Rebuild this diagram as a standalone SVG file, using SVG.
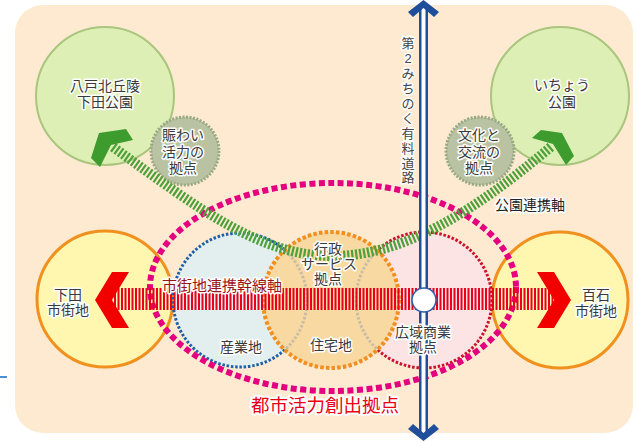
<svg xmlns="http://www.w3.org/2000/svg" width="637" height="442" viewBox="0 0 637 442">
<defs>
<style>
text{font-family:'Liberation Sans','Noto Sans CJK JP',sans-serif;font-size:14px;text-anchor:middle;fill:#3a3a3a;paint-order:stroke;stroke:#fff;stroke-width:3px;stroke-linejoin:round}
.park{fill:#DDEFB4;stroke:#A9C57E;stroke-width:2}
.hub{fill:#B9C3A3;stroke:#98A883;stroke-width:3;stroke-dasharray:2 1.5}
.town{fill:#FFF7B0;stroke:#F0901E;stroke-width:3}
.green{fill:#3E9B2E}
</style>
<clipPath id="orClip"><circle cx="331" cy="300" r="67"/></clipPath>
</defs>
<rect x="0" y="0" width="637" height="442" fill="#fff"/>
<rect x="15" y="5" width="618" height="428" rx="28" fill="#FDEAD0"/>
<line x1="0" y1="377" x2="7" y2="377" stroke="#4A90D9" stroke-width="2"/>

<g id="park-left"><circle class="park" cx="105" cy="96" r="69"/></g>
<g id="park-right"><circle class="park" cx="560" cy="96" r="69"/></g>
<g id="hub-left"><circle class="hub" cx="185" cy="151" r="34"/></g>
<g id="hub-right"><circle class="hub" cx="480" cy="151" r="34"/></g>
<g id="town-left"><circle class="town" cx="105" cy="299" r="68"/></g>
<g id="town-right"><circle class="town" cx="560" cy="300" r="68"/></g>

<g id="industry"><circle cx="240" cy="300" r="67" fill="#E3EFEE" stroke="#1F5EA8" stroke-width="3" stroke-dasharray="2.5 1.8"/></g>
<g id="commerce"><circle cx="424" cy="300" r="68" fill="#FCE3E4" stroke="#C9102A" stroke-width="3" stroke-dasharray="2.5 1.8"/></g>
<g id="residential">
<circle cx="331" cy="300" r="68" fill="#F8D9A2"/>
<g clip-path="url(#orClip)" fill="none" stroke="#C9BCA6" stroke-width="3" stroke-dasharray="2.5 1.8">
<circle cx="240" cy="300" r="67"/>
<circle cx="424" cy="300" r="68"/>
</g>
<circle cx="331" cy="300" r="68" fill="none" stroke="#F28E1E" stroke-width="4" stroke-dasharray="3.5 2.2"/>
</g>

<g id="city-core"><ellipse cx="333" cy="287" rx="183" ry="104" fill="none" stroke="#E4007F" stroke-width="6" stroke-dasharray="6 3.5"/></g>

<g id="connectors">
<path d="M113,147 C200,210 260,255 330,256 C400,257 470,215 552,146" fill="none" stroke="#4EA03A" stroke-width="10" stroke-dasharray="2.2 1.8"/>
<polygon class="green" points="99,133 126,129 133,140 111,145 100,167 91,158"/>
<polygon class="green" points="532,138 541,130 562,133 574,156 566,165 553,144"/>
<line x1="114" y1="299" x2="553" y2="299" stroke="#E8001C" stroke-width="22" stroke-dasharray="2 1.5"/>
<polygon fill="#F20000" points="112,272 129,272 112,300 129,328 112,328 95,300"/>
<polygon fill="#F20000" points="537,272 554,272 571,300 554,328 537,328 554,300"/>
<line x1="423.5" y1="6" x2="423.5" y2="435" stroke="#1F4E9A" stroke-width="9"/>
<line x1="423.5" y1="8" x2="423.5" y2="433" stroke="#fff" stroke-width="4"/>
<polygon fill="#1F4E9A" points="423.5,0 439,12 434,17 423.5,8 413,17 408,12"/>
<polygon fill="#1F4E9A" points="423.5,441 439,429 434,424 423.5,433 413,424 408,429"/>
<circle cx="424" cy="300" r="12" fill="#fff" stroke="#2E5FA8" stroke-width="1.5"/>
</g>

<g id="labels">
<text x="105" y="91">八戸北丘陵</text>
<text x="105" y="107">下田公園</text>
<text x="562" y="90">いちょう</text>
<text x="562" y="107">公園</text>
<text x="183" y="140">賑わい</text>
<text x="183" y="157">活力の</text>
<text x="183" y="173">拠点</text>
<text x="479" y="140">文化と</text>
<text x="479" y="157">交流の</text>
<text x="479" y="173">拠点</text>
<text x="530" y="210" style="fill:#222">公園連携軸</text>
<text x="68" y="300">下田</text>
<text x="68" y="315">市街地</text>
<text x="596" y="300">百石</text>
<text x="596" y="316">市街地</text>
<text x="222" y="291" style="fill:#9A1414;font-size:15px">市街地連携幹線軸</text>
<text x="328" y="254">行政</text>
<text x="329" y="269">サービス</text>
<text x="328" y="284">拠点</text>
<text x="241" y="352">産業地</text>
<text x="331" y="350">住宅地</text>
<text x="423" y="337">広域商業</text>
<text x="423" y="352">拠点</text>
<text x="325" y="412" style="fill:#E60012;font-size:18.5px;stroke-width:4px">都市活力創出拠点</text>
<text style="font-size:13px;fill:#444">
<tspan x="408" y="48">第</tspan><tspan x="408" y="63">2</tspan><tspan x="408" y="78">み</tspan><tspan x="408" y="93">ち</tspan><tspan x="408" y="108">の</tspan><tspan x="408" y="123">く</tspan><tspan x="408" y="138">有</tspan><tspan x="408" y="153">料</tspan><tspan x="408" y="168">道</tspan><tspan x="408" y="182">路</tspan>
</text>
</g>
</svg>
